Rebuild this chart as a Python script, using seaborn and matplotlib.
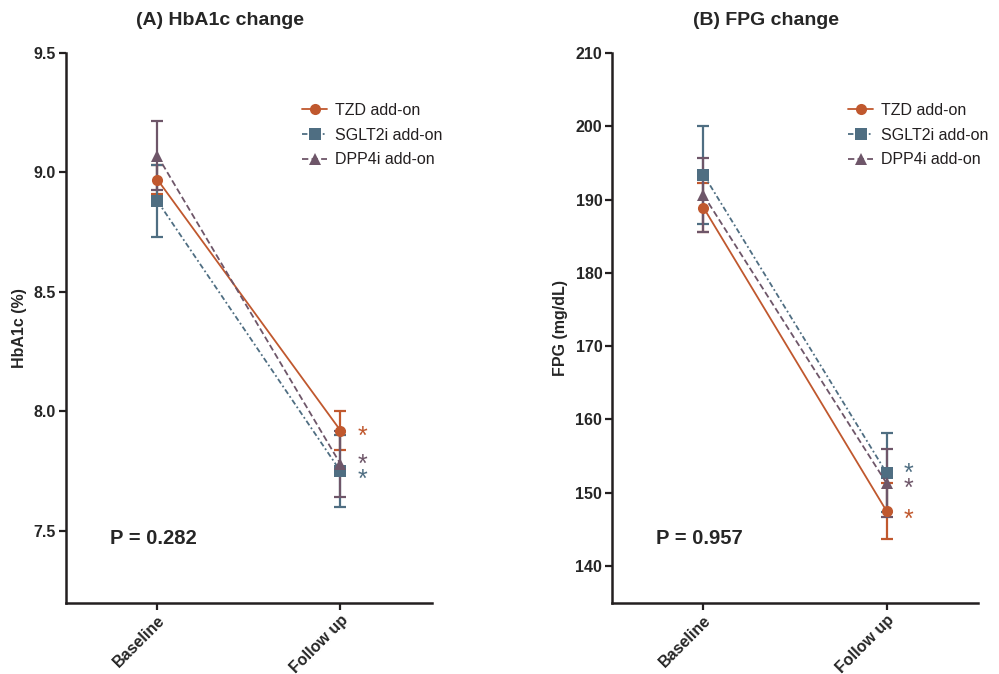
import pandas as pd
import matplotlib
matplotlib.use("Agg")
import matplotlib.pyplot as plt
import seaborn as sns

# data (mean and error bar half-width)
timepoints = ["Baseline", "Follow up"]
groups = ["TZD add-on", "SGLT2i add-on", "DPP4i add-on"]

hba1c_mean = {"TZD add-on": [8.97, 7.92], "SGLT2i add-on": [8.88, 7.75], "DPP4i add-on": [9.07, 7.78]}
hba1c_err = {"TZD add-on": [0.06, 0.08], "SGLT2i add-on": [0.15, 0.15], "DPP4i add-on": [0.145, 0.14]}

fpg_mean = {"TZD add-on": [188.9, 147.5], "SGLT2i add-on": [193.4, 152.7], "DPP4i add-on": [190.6, 151.3]}
fpg_err = {"TZD add-on": [3.3, 3.8], "SGLT2i add-on": [6.7, 5.4], "DPP4i add-on": [5.0, 4.6]}

p_values = ["P = 0.282", "P = 0.957"]

colors = {"TZD add-on": "#C0582E", "SGLT2i add-on": "#4F6E82", "DPP4i add-on": "#6E5669"}
dashes = {"TZD add-on": "", "SGLT2i add-on": (3, 1.5, 1, 1.5), "DPP4i add-on": (3.5, 1.8)}
markers = {"TZD add-on": "o", "SGLT2i add-on": "s", "DPP4i add-on": "^"}

sns.set_style("ticks")
plt.rcParams["font.family"] = ["Liberation Sans", "DejaVu Sans"]


def make_frame(means):
    rows = []
    for g in groups:
        for i, t in enumerate(timepoints):
            rows.append({"group": g, "x": i, "value": means[g][i]})
    return pd.DataFrame(rows)


def draw_panel(ax, means, errs, ylim, yticks, ylabel, title, ptext, star_y):
    df = make_frame(means)
    for g in groups:
        ax.errorbar([0, 1], means[g], yerr=errs[g], fmt="none", ecolor=colors[g],
                    elinewidth=1.6, capsize=4.3, capthick=1.6, zorder=2)
    sns.lineplot(data=df, x="x", y="value", hue="group", style="group",
                 hue_order=groups, style_order=groups, palette=colors,
                 dashes=dashes, markers=markers, markersize=8, markeredgewidth=0,
                 linewidth=1.3, ax=ax, zorder=3)
    # significance asterisks next to follow-up points
    for g in groups:
        ax.text(1.12, star_y[g], "*", color=colors[g], fontsize=18,
                ha="center", va="center")
    ax.set_xlim(-0.5, 1.5)
    ax.set_ylim(*ylim)
    ax.set_yticks(yticks)
    if isinstance(yticks[0], float):
        ax.set_yticklabels([f"{v:.1f}" for v in yticks])
    ax.set_xticks([0, 1])
    ax.set_xticklabels(timepoints, rotation=45, ha="right", rotation_mode="anchor")
    ax.set_xlabel("")
    ax.set_ylabel(ylabel, fontsize=11.5, fontweight="bold", labelpad=5)
    for lbl in ax.get_xticklabels() + ax.get_yticklabels():
        lbl.set_fontweight("bold")
        lbl.set_fontsize(11.5)
    ax.tick_params(width=1.6, length=5, color="#231F20", pad=2)
    for side in ["left", "bottom"]:
        ax.spines[side].set_linewidth(1.8)
        ax.spines[side].set_color("#231F20")
    ax.spines["left"].set_bounds(ylim[0], yticks[-1])
    sns.despine(ax=ax)
    ax.text(0.42, 1.06, title, transform=ax.transAxes, ha="center", va="center",
            fontsize=14, fontweight="bold")
    ax.text(0.12, 0.117, ptext, transform=ax.transAxes, ha="left", va="center",
            fontsize=14.5, fontweight="bold")
    leg = ax.legend(loc="upper left", bbox_to_anchor=(0.605, 0.935), frameon=False,
                    fontsize=11.5, handlelength=1.6, handletextpad=0.5, labelspacing=0.6)
    for txt in leg.get_texts():
        txt.set_color("#231F20")


fig = plt.figure(figsize=(9.99, 6.74), dpi=100)
ax1 = fig.add_axes([0.066, 0.106, 0.3664, 0.8154])
ax2 = fig.add_axes([0.6126, 0.106, 0.3664, 0.8154])

draw_panel(ax1, hba1c_mean, hba1c_err, (7.2, 9.5), [7.5, 8.0, 8.5, 9.0, 9.5],
           "HbA1c (%)", "(A) HbA1c change", p_values[0],
           {"TZD add-on": 7.895, "SGLT2i add-on": 7.715, "DPP4i add-on": 7.775})
draw_panel(ax2, fpg_mean, fpg_err, (135, 210), [140, 150, 160, 170, 180, 190, 200, 210],
           "FPG (mg/dL)", "(B) FPG change", p_values[1],
           {"TZD add-on": 146.3, "SGLT2i add-on": 152.5, "DPP4i add-on": 150.5})

fig.savefig("out.png", dpi=100)
